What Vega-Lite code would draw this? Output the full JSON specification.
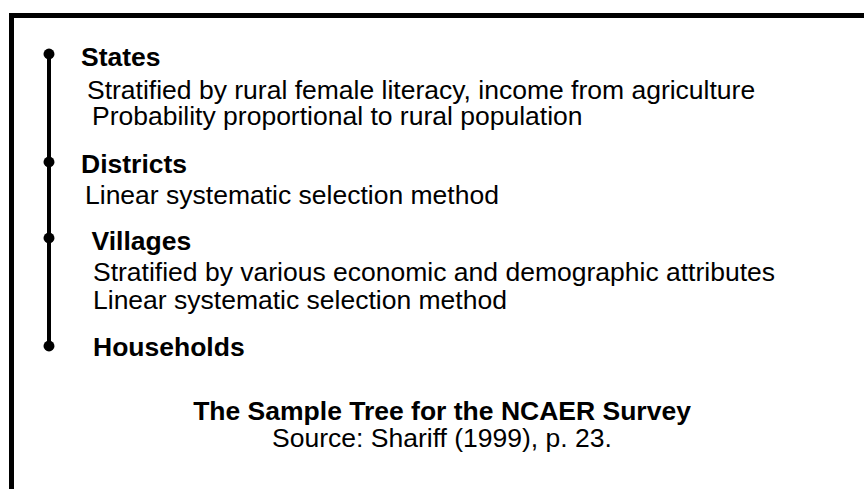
{
  "$schema": "https://vega.github.io/schema/vega-lite/v6.json",
  "width": 864,
  "height": 489,
  "autosize": {"type": "none"},
  "padding": 0,
  "background": "white",
  "config": {"view": {"stroke": null}},
  "datasets": {
    "frame": [
      {"x": 9, "x2": 864, "y": 15.5, "y2": 15.5},
      {"x": 11.5, "x2": 11.5, "y": 13, "y2": 489}
    ],
    "spine": [{"x": 49, "x2": 49, "y": 54, "y2": 346}],
    "stages": [
      {"stage": "States", "x": 49, "y": 54},
      {"stage": "Districts", "x": 49, "y": 162},
      {"stage": "Villages", "x": 49, "y": 238},
      {"stage": "Households", "x": 49, "y": 346}
    ],
    "labels": [
      {"kind": "heading", "text": "States", "x": 81, "y": 66},
      {"kind": "item", "text": "Stratified by rural female literacy, income from agriculture", "x": 87, "y": 99},
      {"kind": "item", "text": "Probability proportional to rural population", "x": 92, "y": 124.5},
      {"kind": "heading", "text": "Districts", "x": 81, "y": 172.5},
      {"kind": "item", "text": "Linear systematic selection method", "x": 85, "y": 204},
      {"kind": "heading", "text": "Villages", "x": 91.5, "y": 249.5},
      {"kind": "item", "text": "Stratified by various economic and demographic attributes", "x": 93, "y": 281},
      {"kind": "item", "text": "Linear systematic selection method", "x": 93, "y": 309},
      {"kind": "heading", "text": "Households", "x": 93, "y": 355.5},
      {"kind": "title", "text": "The Sample Tree for the NCAER Survey", "x": 442, "y": 420},
      {"kind": "source", "text": "Source: Shariff (1999), p. 23.", "x": 442, "y": 447}
    ]
  },
  "encoding": {
    "x": {"field": "x", "type": "quantitative", "scale": {"domain": [0, 864]}, "axis": null},
    "y": {"field": "y", "type": "quantitative", "scale": {"domain": [0, 489], "reverse": true}, "axis": null}
  },
  "layer": [
    {
      "data": {"name": "frame"},
      "mark": {"type": "rule", "color": "black", "strokeWidth": 5},
      "encoding": {"x2": {"field": "x2"}, "y2": {"field": "y2"}}
    },
    {
      "data": {"name": "spine"},
      "mark": {"type": "rule", "color": "black", "strokeWidth": 4},
      "encoding": {"x2": {"field": "x2"}, "y2": {"field": "y2"}}
    },
    {
      "data": {"name": "stages"},
      "mark": {"type": "circle", "color": "black", "opacity": 1, "size": 120}
    },
    {
      "data": {"name": "labels"},
      "transform": [{"filter": "datum.kind === 'heading'"}],
      "mark": {"type": "text", "align": "left", "baseline": "alphabetic", "font": "Liberation Sans", "fontWeight": "bold", "fontSize": 26.5, "color": "black"},
      "encoding": {"text": {"field": "text"}}
    },
    {
      "data": {"name": "labels"},
      "transform": [{"filter": "datum.kind === 'item'"}],
      "mark": {"type": "text", "align": "left", "baseline": "alphabetic", "font": "Liberation Sans", "fontSize": 26.5, "color": "black"},
      "encoding": {"text": {"field": "text"}}
    },
    {
      "data": {"name": "labels"},
      "transform": [{"filter": "datum.kind === 'title'"}],
      "mark": {"type": "text", "align": "center", "baseline": "alphabetic", "font": "Liberation Sans", "fontWeight": "bold", "fontSize": 26.5, "color": "black"},
      "encoding": {"text": {"field": "text"}}
    },
    {
      "data": {"name": "labels"},
      "transform": [{"filter": "datum.kind === 'source'"}],
      "mark": {"type": "text", "align": "center", "baseline": "alphabetic", "font": "Liberation Sans", "fontSize": 26.5, "color": "black"},
      "encoding": {"text": {"field": "text"}}
    }
  ]
}
